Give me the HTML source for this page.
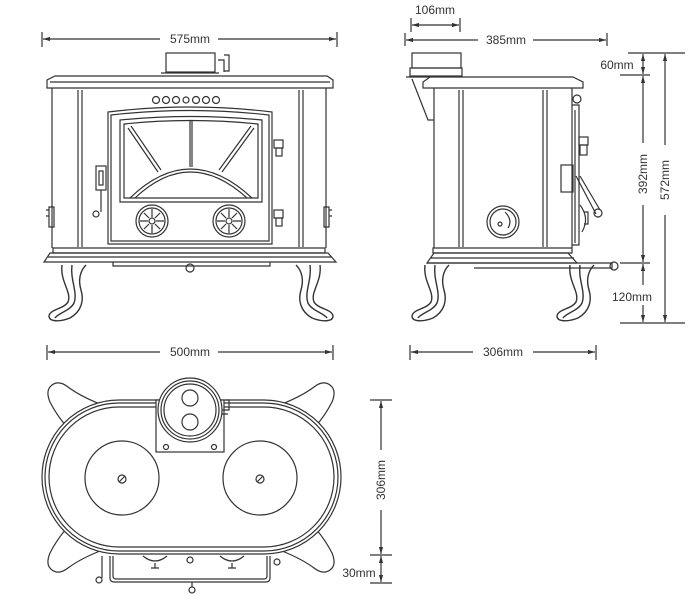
<!DOCTYPE html>
<html><head><meta charset="utf-8"><style>
html,body{margin:0;padding:0;background:#fff;}
svg{display:block;}
text{font-family:"Liberation Sans",Arial,sans-serif;font-size:12px;fill:#333;}
</style></head><body>
<svg width="700" height="609" viewBox="0 0 700 609" xmlns="http://www.w3.org/2000/svg">
<defs>
<marker id="a" viewBox="0 0 10 10" refX="10" refY="5" markerWidth="6" markerHeight="6" orient="auto-start-reverse"><path d="M0,2 L10,5 L0,8 z" fill="#333"/></marker>
<g id="legL" fill="none" stroke="#333" stroke-width="1.4">
<path d="M62,265 C60,282 72,292 68,302 C64,309 50,309 49,316 C49,322 60,322 70,318 C82,311 84,300 81,290 C78,280 80,271 86,265"/>
<path d="M72,265 C70,280 78,292 74,303 C70,311 58,313 55,318"/>
</g>
<g id="wheel" fill="none" stroke="#333" stroke-width="1.2">
<circle r="16"/><circle r="13"/><circle r="3"/>
<path d="M0,-4V-12M0,4V12M-4,0H-12M4,0H12M3,-3L8,-8M-3,-3L-8,-8M3,3L8,8M-3,3L-8,8"/>
</g>
<path id="ear" d="M66,426 Q56,414 50,402 Q45,390 52,385 Q59,380 68,387 Q80,396 100,404" fill="#fff" stroke="#333" stroke-width="1.2"/>
</defs>
<g fill="none" stroke="#333" stroke-width="1.2">
<line x1="42" y1="32" x2="42" y2="47"/><line x1="337" y1="32" x2="337" y2="47"/>
<line x1="43" y1="39" x2="160" y2="39" marker-start="url(#a)"/><line x1="218" y1="39" x2="336" y2="39" marker-end="url(#a)"/>
<rect x="166" y="53" width="49" height="19"/><path d="M161,73H219M218,60h6v12M224,55h5v16h-5"/>
<path d="M55,76H327L333,80V88H47V80Z"/><line x1="50" y1="82" x2="330" y2="82"/>
<path d="M52,88V248M326,88V248M78,90V247M82,90V247M299,90V247M303,90V247"/>
<circle cx="156" cy="100" r="3.5"/><circle cx="166" cy="100" r="3.5"/><circle cx="176" cy="100" r="3.5"/><circle cx="186" cy="100" r="3"/><circle cx="196" cy="100" r="3.5"/><circle cx="206" cy="100" r="3.5"/><circle cx="216" cy="100" r="3.5"/>
<path d="M108,244V112Q190,102 272,112V244Z"/><path d="M111,241V115Q190,106 269,115V241Z"/>
<path d="M120,202V120Q190,113 262,120V202Z"/><path d="M124,198V124Q190,117 258,124V198Z"/>
<path d="M190,120V167M192,120V167M128,128L158,172M131,126L161,170M254,128L222,172M251,126L219,170"/>
<path d="M130,198Q190,140 252,198M135,198Q190,146 247,198"/>
<use href="#wheel" x="152" y="221"/><use href="#wheel" x="229" y="221"/>
<rect x="96" y="166" width="10" height="24"/><rect x="99" y="171" width="4" height="14"/><path d="M101,190V212"/><circle cx="96" cy="214" r="3"/>
<rect x="274" y="140" width="9" height="8"/><rect x="276" y="148" width="6" height="8"/><rect x="274" y="210" width="9" height="8"/><rect x="276" y="218" width="6" height="8"/>
<path d="M49,207h5v20h-5zM46,210h3v6h-3M329,207h-5v20h5zM332,210h-3v6h3"/>
<path d="M53,248H325V253H53Z"/><path d="M50,253H328L336,262H44Z"/><line x1="48" y1="257" x2="332" y2="257"/>
<path d="M113,262V266H270V262"/><circle cx="190" cy="268" r="4"/>
<use href="#legL"/><use href="#legL" transform="translate(382,0) scale(-1,1)"/>

<line x1="411" y1="18" x2="411" y2="32"/><line x1="460" y1="18" x2="460" y2="32"/>
<line x1="412" y1="25" x2="459" y2="25" marker-start="url(#a)" marker-end="url(#a)"/>
<line x1="405" y1="33" x2="405" y2="46"/><line x1="607" y1="33" x2="607" y2="46"/>
<line x1="406" y1="40" x2="478" y2="40" marker-start="url(#a)"/><line x1="533" y1="40" x2="606" y2="40" marker-end="url(#a)"/>
<rect x="412" y="53" width="49" height="15"/><rect x="410" y="68" width="52" height="8"/>
<path d="M406,77H430M412,79L428,120H434"/>
<path d="M430,77H573L583,82V88H423V82Z"/>
<path d="M434,88V248M572,88V248M459,90V247M463,90V247M543,90V247M547,90V247"/>
<circle cx="503" cy="222" r="16"/><circle cx="503" cy="222" r="13"/><path d="M505,212Q513,220 508,228"/><circle cx="500" cy="224" r="2"/>
<path d="M572,105H579V245H572M575,110V243"/><circle cx="577" cy="99" r="4"/>
<rect x="579" y="137" width="9" height="8"/><rect x="580" y="145" width="7" height="10"/>
<rect x="561" y="165" width="12" height="27"/><path d="M576,176L596,214M580,176L600,210"/><circle cx="598" cy="213" r="4"/>
<path d="M580,205Q590,218 582,232M584,212h4v12h-4"/>
<path d="M433,248H572V253H433Z"/><path d="M434,253H568L577,263H427Z"/><line x1="430" y1="258" x2="574" y2="258"/>
<path d="M427,263H612V268H474"/><circle cx="614" cy="266" r="4"/>
<use href="#legL" transform="translate(363,0)"/><use href="#legL" transform="translate(508,0)"/>
<path d="M628,53H685M620,75H650M620,263H650M620,323H685"/>
<line x1="643" y1="54" x2="643" y2="74" marker-start="url(#a)" marker-end="url(#a)"/>
<line x1="643" y1="76" x2="643" y2="143" marker-start="url(#a)"/><line x1="643" y1="205" x2="643" y2="262" marker-end="url(#a)"/>
<line x1="643" y1="264" x2="643" y2="285" marker-start="url(#a)"/><line x1="643" y1="305" x2="643" y2="322" marker-end="url(#a)"/>
<line x1="665" y1="54" x2="665" y2="145" marker-start="url(#a)"/><line x1="665" y1="215" x2="665" y2="322" marker-end="url(#a)"/>

<line x1="47" y1="345" x2="47" y2="360"/><line x1="333" y1="345" x2="333" y2="360"/>
<line x1="48" y1="352" x2="160" y2="352" marker-start="url(#a)"/><line x1="218" y1="352" x2="332" y2="352" marker-end="url(#a)"/>
<line x1="410" y1="345" x2="410" y2="360"/><line x1="596" y1="345" x2="596" y2="360"/>
<line x1="411" y1="352" x2="473" y2="352" marker-start="url(#a)"/><line x1="533" y1="352" x2="595" y2="352" marker-end="url(#a)"/>

<use href="#ear"/>
<use href="#ear" transform="translate(382,0) scale(-1,1)"/>
<use href="#ear" transform="translate(0,955) scale(1,-1)"/>
<use href="#ear" transform="translate(382,955) scale(-1,-1)"/>
<rect x="42" y="400" width="299" height="154" rx="77" fill="#fff"/>
<rect x="45" y="403" width="293" height="148" rx="74"/>
<rect x="49" y="407" width="285" height="140" rx="70"/>
<rect x="156" y="400" width="68" height="52" fill="#fff"/>
<circle cx="190" cy="410" r="32" fill="#fff"/><circle cx="190" cy="410" r="29"/><circle cx="190" cy="410" r="26"/>
<circle cx="190" cy="398" r="8"/><circle cx="190" cy="422" r="8"/>
<circle cx="166" cy="447" r="2.5"/><circle cx="214" cy="447" r="2.5"/>
<path d="M222,410h7v-10h-3M222,414h6"/>
<circle cx="122" cy="478" r="37"/><circle cx="260" cy="478" r="37"/>
<circle cx="122" cy="479" r="4"/><path d="M119,482L125,476"/><circle cx="260" cy="479" r="4"/><path d="M257,482L263,476"/>
<path d="M110,556V578Q110,582 114,582H266Q270,582 270,578V556M113,556V576Q113,579 116,579H264Q267,579 267,576V556"/>
<path d="M143,556Q155,566 167,556M155,563V568M151,568H159M220,556Q232,566 244,556M232,563V568M228,568H236"/>
<circle cx="190" cy="560" r="3"/><circle cx="192" cy="590" r="3"/><path d="M192,582V587"/>
<path d="M102,556V578"/><circle cx="99" cy="580" r="3"/><circle cx="277" cy="562" r="3"/>
<path d="M370,400H392M370,555H392M370,583H392"/>
<line x1="381" y1="401" x2="381" y2="450" marker-start="url(#a)"/><line x1="381" y1="510" x2="381" y2="554" marker-end="url(#a)"/>
<line x1="381" y1="556" x2="381" y2="582" marker-start="url(#a)" marker-end="url(#a)"/>
</g>
<text x="190" y="43" text-anchor="middle">575mm</text>
<text x="435" y="14" text-anchor="middle">106mm</text>
<text x="506" y="44" text-anchor="middle">385mm</text>
<text x="617" y="69" text-anchor="middle">60mm</text>
<text x="632" y="301" text-anchor="middle">120mm</text>
<text transform="translate(647,174) rotate(-90)" text-anchor="middle">392mm</text>
<text transform="translate(669,180) rotate(-90)" text-anchor="middle">572mm</text>
<text x="190" y="356" text-anchor="middle">500mm</text>
<text x="503" y="356" text-anchor="middle">306mm</text>
<text transform="translate(385,480) rotate(-90)" text-anchor="middle">306mm</text>
<text x="359" y="577" text-anchor="middle">30mm</text>
</svg>
</body></html>
